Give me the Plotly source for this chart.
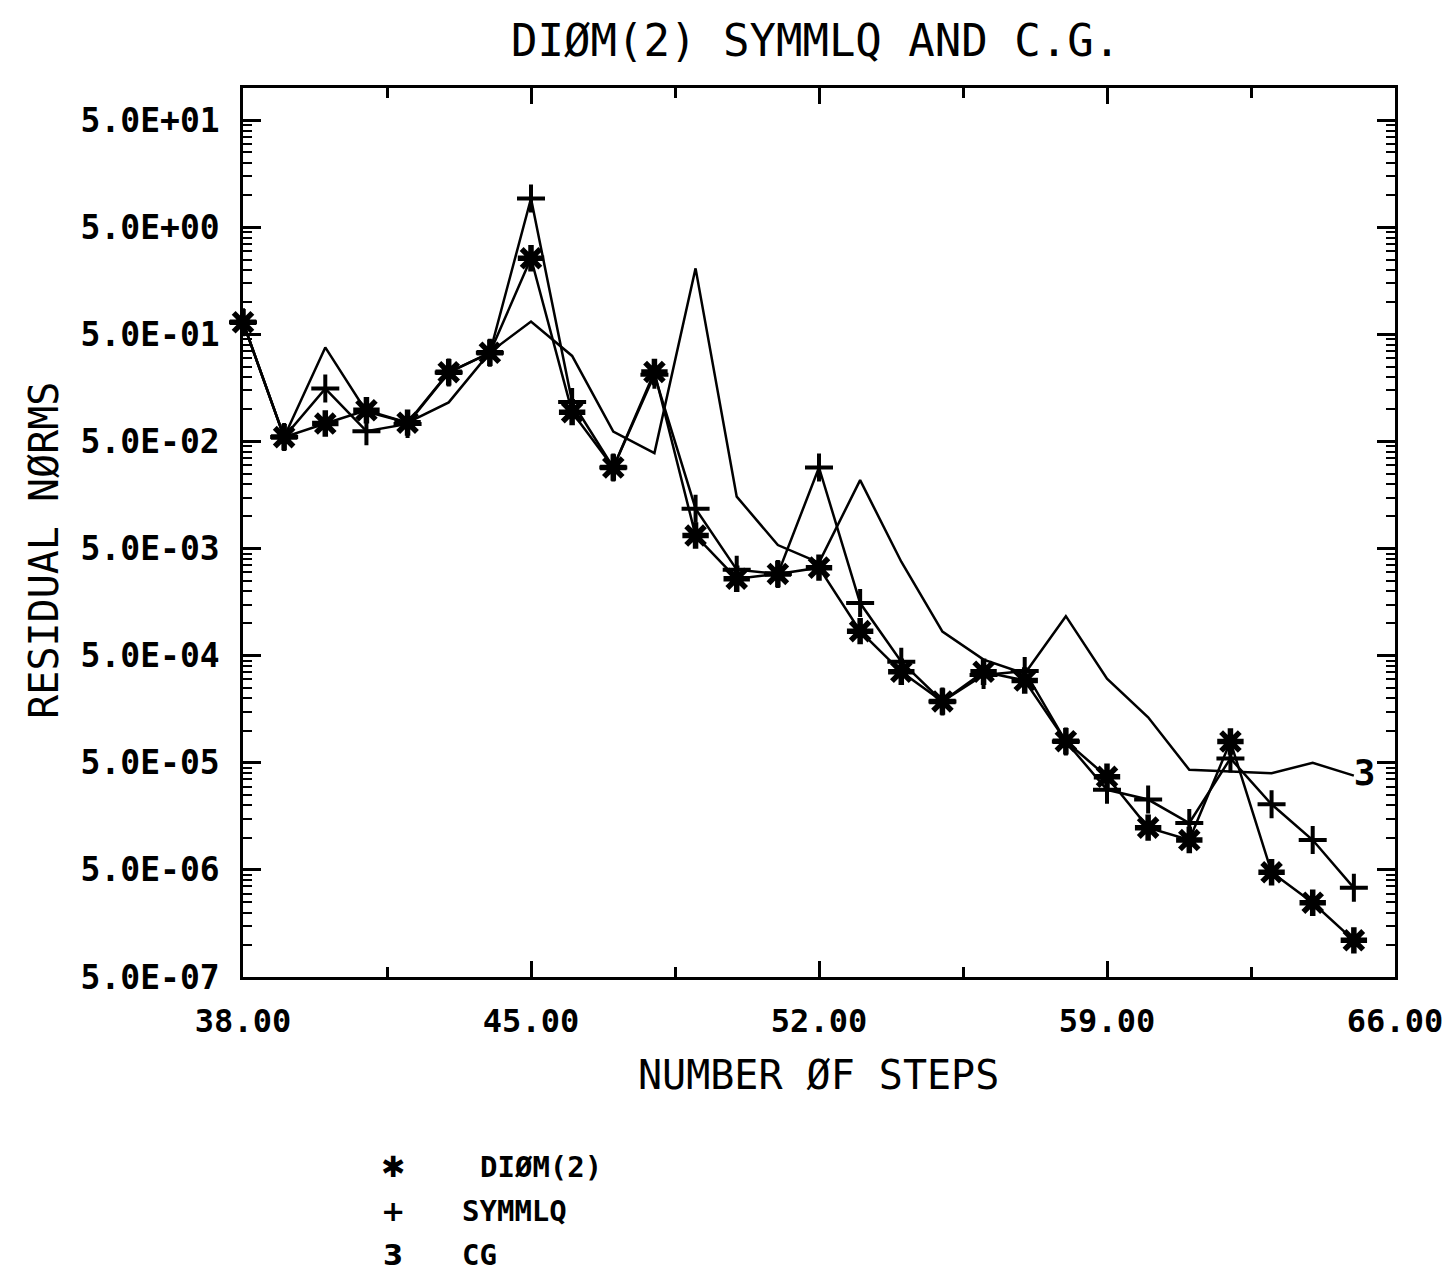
import math
import plotly.graph_objects as go

# ---- data ----
steps = list(range(38, 66))
diom = [0.65, 0.055, 0.0736, 0.098, 0.075, 0.222, 0.337, 2.57, 0.094, 0.0286,
        0.223, 0.00662, 0.00262, 0.0029, 0.00332, 0.000848, 0.000354, 0.000187,
        0.000354, 0.000293, 7.96e-5, 3.7e-5, 1.24e-5, 9.5e-6, 7.9e-5, 4.75e-6,
        2.47e-6, 1.1e-6]
symmlq = [0.65, 0.055, 0.156, 0.0625, 0.073, 0.22, 0.337, 9.3, 0.117, 0.0286,
          0.21, 0.0118, 0.00318, 0.0029, 0.0286, 0.00155, 0.00044, 0.000187,
          0.00033, 0.00036, 7.9e-5, 2.8e-5, 2.27e-5, 1.37e-5, 5.5e-5, 2.05e-5,
          9.5e-6, 3.4e-6]
cg = [0.65, 0.055, 0.378, 0.095, 0.075, 0.116, 0.34, 0.66, 0.315, 0.062,
      0.039, 2.07, 0.0153, 0.0054, 0.0037, 0.0218, 0.00377, 0.00084, 0.00046,
      0.00034, 0.00117, 0.000305, 0.000133, 4.3e-5, 4.15e-5, 4.0e-5, 5.0e-5, 3.8e-5]

y_tickvals = [5e-7, 5e-6, 5e-5, 5e-4, 5e-3, 5e-2, 5e-1, 5e0, 5e1]
y_ticktext = ["5.0E-07", "5.0E-06", "5.0E-05", "5.0E-04", "5.0E-03",
              "5.0E-02", "5.0E-01", "5.0E+00", "5.0E+01"]
x_tickvals = [38, 45, 52, 59, 66]
x_ticktext = ["38.00", "45.00", "52.00", "59.00", "66.00"]
x_minorvals = [41.5, 48.5, 55.5, 62.5]

legend_symbols = ["\u2731", "+", "3"]
legend_labels = ["DI\u00d8M(2)", "SYMMLQ", "CG"]

title_text = "DI\u00d8M(2) SYMMLQ AND C.G."
xtitle = "NUMBER \u00d8F STEPS"
ytitle = "RESIDUAL N\u00d8RMS"

# minor log ticks: base*k for k=2..9 in each cycle
y_minor = [b * k for b in y_tickvals[:-1] for k in range(2, 10)]
y_minor += [y_tickvals[-1] * k for k in range(2, 3)]

W, H = 1455, 1274
L, R, T, B = 243, 1405, 88, 977
FONT = "DejaVu Sans Mono"

fig = go.Figure()
fig.add_trace(go.Scatter(
    x=steps, y=cg, mode="lines+text",
    text=[""] * (len(steps) - 1) + ["<b>3</b>"], textposition="middle right",
    textfont=dict(family=FONT, size=36, color="black"),
    line=dict(color="black", width=2.5), cliponaxis=False, name="CG"))
fig.add_trace(go.Scatter(
    x=steps, y=symmlq, mode="lines+markers",
    marker=dict(symbol="cross-thin-open", size=20, line=dict(color="black", width=4)),
    line=dict(color="black", width=2.5), cliponaxis=False, name="SYMMLQ"))
fig.add_trace(go.Scatter(
    x=steps, y=diom, mode="lines+markers",
    marker=dict(symbol="asterisk-open", size=22, line=dict(color="black", width=5.5)),
    line=dict(color="black", width=2.5), cliponaxis=False, name="DIOM(2)"))


def px(xp):
    return (xp - L) / (R - L)


def py(yp):
    return (B - yp) / (B - T)


ann = []
ann.append(dict(text=title_text, x=px(820), y=py(40), xref="paper", yref="paper",
                showarrow=False, font=dict(family=FONT, size=44, color="black"),
                xanchor="center", yanchor="middle"))
ann.append(dict(text=xtitle, x=px(823), y=py(1075), xref="paper", yref="paper",
                showarrow=False, font=dict(family=FONT, size=40, color="black"),
                xanchor="center", yanchor="middle"))
ann.append(dict(text=ytitle, x=px(42), y=py(550), xref="paper", yref="paper",
                showarrow=False, textangle=-90,
                font=dict(family=FONT, size=40, color="black"),
                xanchor="center", yanchor="middle"))
leg_y = [1167, 1211, 1255]
for s, lab, yy in zip(legend_symbols, legend_labels, leg_y):
    ann.append(dict(text="<b>" + s + "</b>", x=px(394), y=py(yy), xref="paper", yref="paper",
                    showarrow=False, font=dict(family="DejaVu Sans", size=29, color="black"),
                    xanchor="center", yanchor="middle"))
    ann.append(dict(text="<b>" + lab + "</b>", x=px(462 if lab != legend_labels[0] else 480),
                    y=py(yy), xref="paper", yref="paper",
                    showarrow=False, font=dict(family=FONT, size=29, color="black"),
                    xanchor="left", yanchor="middle"))

fig.update_layout(
    width=W, height=H,
    margin=dict(l=L, r=W - R, t=T, b=H - B),
    paper_bgcolor="white", plot_bgcolor="white",
    showlegend=False,
    annotations=ann,
    xaxis=dict(range=[38, 66], tickmode="array", tickvals=x_tickvals, ticktext=x_ticktext,
               ticks="inside", ticklen=16, tickwidth=2.5, tickcolor="black",
               showline=True, linecolor="black", linewidth=2.5, mirror="ticks",
               showgrid=False, zeroline=False, ticklabelstandoff=14,
               tickfont=dict(family=FONT, size=32, color="black", weight="bold"),
               minor=dict(tickmode="array", tickvals=x_minorvals, ticks="inside",
                          ticklen=10, tickwidth=2.5, tickcolor="black", showgrid=False)),
    yaxis=dict(type="log", range=[math.log10(5e-7), 2.0], tickmode="array",
               tickvals=y_tickvals, ticktext=y_ticktext,
               ticks="inside", ticklen=18, tickwidth=2.5, tickcolor="black",
               showline=True, linecolor="black", linewidth=2.5, mirror="ticks",
               showgrid=False, zeroline=False, ticklabelstandoff=14,
               tickfont=dict(family=FONT, size=33, color="black", weight="bold"),
               minor=dict(tickmode="array", tickvals=y_minor, ticks="inside",
                          ticklen=9, tickwidth=2, tickcolor="black", showgrid=False)),
)

fig.write_html("out.html",
               config=dict(displayModeBar=False),
               post_script="document.body.style.margin='0';document.body.style.overflow='hidden';")
